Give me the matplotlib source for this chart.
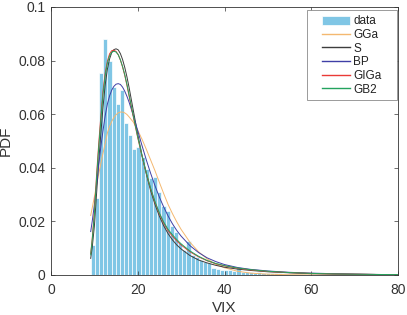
import numpy as np
import matplotlib
matplotlib.use("Agg")
import matplotlib.pyplot as plt
from matplotlib.patches import Rectangle

plt.rcParams['font.family'] = ['Liberation Sans', 'DejaVu Sans']

# ---- histogram (PDF-normalised) ----
bin_start = 9.15
bin_width = 0.96
hist_heights = [
    0.0112, 0.0287, 0.0755, 0.0880, 0.0800, 0.0700, 0.0638, 0.0690, 0.0567, 0.0522,
    0.0469, 0.0476, 0.0442, 0.0394, 0.0361, 0.0365, 0.0311, 0.0259, 0.0240, 0.0184,
    0.0162, 0.0121, 0.0093, 0.0126, 0.0075, 0.0066, 0.0056, 0.0047, 0.0044, 0.0026,
    0.0022, 0.0020, 0.0018, 0.0017, 0.0015, 0.0029, 0.0013, 0.0012, 0.0011, 0.0009,
    0.0010, 0.0008, 0.0007, 0.0007, 0.0006, 0.0006, 0.0005, 0.0005, 0.0004, 0.0004,
    0.0003, 0.0004, 0.0003, 0.0002, 0.0003, 0.0002, 0.0002, 0.0001, 0.0002, 0.0001,
    0.0001, 0.0001, 0.0001, 0.0000, 0.0001, 0.0000, 0.0000, 0.0000, 0.0001, 0.0000,
    0.0000, 0.0000, 0.0001, 0.0000,
]

# ---- fitted PDFs ----
x_fit = [9.15, 9.5, 10, 10.5, 11, 11.5, 12, 12.5, 13, 13.5, 14, 14.5, 15, 15.5, 16,
         16.5, 17, 17.5, 18, 19, 20, 21, 22, 23, 24, 25, 26, 27, 28, 29, 30, 32, 34,
         36, 38, 40, 43, 46, 50, 55, 60, 65, 70, 75, 80]

pdf_gga = [0.0222, 0.0250, 0.0292, 0.0335, 0.0377, 0.0417, 0.0455, 0.0492, 0.0530,
           0.0555, 0.0573, 0.0588, 0.0598, 0.0605, 0.0608, 0.0608, 0.0605, 0.0599,
           0.0590, 0.0570, 0.0540, 0.0506, 0.0468, 0.0428, 0.0388, 0.0345, 0.0303,
           0.0263, 0.0229, 0.0198, 0.0170, 0.0123, 0.0087, 0.0060, 0.0040, 0.0027,
           0.0014, 0.0007, 0.0003, 0.0001, 0.00003, 0.0, 0.0, 0.0, 0.0]

pdf_s = [0.0062, 0.0102, 0.0182, 0.0302, 0.0422, 0.0530, 0.0628, 0.0710, 0.0768,
         0.0806, 0.0830, 0.0841, 0.0844, 0.0840, 0.0826, 0.0804, 0.0775, 0.0740,
         0.0700, 0.0612, 0.0525, 0.0445, 0.0375, 0.0313, 0.0262, 0.0219, 0.0183,
         0.0154, 0.0131, 0.0112, 0.0097, 0.0073, 0.0056, 0.0045, 0.0036, 0.0029,
         0.0022, 0.0017, 0.0012, 0.0008, 0.0005, 0.0004, 0.0003, 0.0002, 0.0001]

pdf_bp = [0.0162, 0.0200, 0.0262, 0.0335, 0.0410, 0.0480, 0.0540, 0.0595, 0.0638,
          0.0668, 0.0690, 0.0704, 0.0712, 0.0714, 0.0711, 0.0701, 0.0686, 0.0667,
          0.0645, 0.0594, 0.0538, 0.0482, 0.0428, 0.0378, 0.0332, 0.0290, 0.0253,
          0.0220, 0.0191, 0.0166, 0.0145, 0.0110, 0.0084, 0.0064, 0.0050, 0.0039,
          0.0028, 0.0021, 0.0015, 0.0010, 0.0007, 0.0005, 0.0003, 0.0002, 0.00015]

pdf_giga = [0.0080, 0.0135, 0.0235, 0.0372, 0.0490, 0.0595, 0.0688, 0.0755, 0.0798,
            0.0825, 0.0837, 0.0839, 0.0834, 0.0822, 0.0802, 0.0776, 0.0745, 0.0708,
            0.0668, 0.0588, 0.0512, 0.0442, 0.0378, 0.0320, 0.0270, 0.0228, 0.0193,
            0.0165, 0.0145, 0.0127, 0.0112, 0.0087, 0.0068, 0.0053, 0.0042, 0.0034,
            0.0025, 0.0019, 0.0013, 0.0009, 0.0006, 0.0004, 0.0003, 0.0002, 0.00015]

pdf_gb2 = [0.0075, 0.0130, 0.0225, 0.0360, 0.0475, 0.0580, 0.0675, 0.0745, 0.0790,
           0.0818, 0.0831, 0.0835, 0.0832, 0.0822, 0.0803, 0.0778, 0.0748, 0.0712,
           0.0672, 0.0592, 0.0515, 0.0445, 0.0380, 0.0322, 0.0273, 0.0231, 0.0197,
           0.0170, 0.0150, 0.0132, 0.0116, 0.0090, 0.0070, 0.0054, 0.0043, 0.0035,
           0.0026, 0.0020, 0.0014, 0.0009, 0.0006, 0.0004, 0.0003, 0.0002, 0.00015]

labels = ['data', 'GGa', 'S', 'BP', 'GIGa', 'GB2']
colors = ['#80c6e5', '#f4b870', '#3d3d3d', '#3f3fa6', '#ea3a36', '#23a35e']

x_ticks = [0, 20, 40, 60, 80]
y_ticks = [0, 0.02, 0.04, 0.06, 0.08, 0.1]
y_tick_labels = ['0', '0.02', '0.04', '0.06', '0.08', '0.1']

W, H = 407, 315
fig = plt.figure(figsize=(W / 100, H / 100), dpi=100)
ax = fig.add_axes([51 / W, 40 / H, 347 / W, 268 / H])

n = len(hist_heights)
edges = bin_start + bin_width * np.arange(n)
bars = ax.bar(edges, hist_heights, width=bin_width, align='edge', color=colors[0],
              edgecolor='white', linewidth=0.5, label=labels[0])

handles = [bars]
curves = [pdf_gga, pdf_s, pdf_bp, pdf_giga, pdf_gb2]
for y, lab, c in zip(curves, labels[1:], colors[1:]):
    ln, = ax.plot(x_fit, y, color=c, linewidth=0.7, label=lab)
    handles.append(ln)

ax.set_xlim(0, 80)
ax.set_ylim(0, 0.1)
ax.set_xticks(x_ticks)
ax.set_yticks(y_ticks)
ax.set_yticklabels(y_tick_labels)
ax.tick_params(direction='in', length=3, width=0.5, top=True, right=True,
               labelsize=10, colors='#333333')
ax.tick_params(axis='x', pad=6)
ax.tick_params(axis='y', pad=4)
for sp in ax.spines.values():
    sp.set_linewidth(0.6)
    sp.set_color('#333333')
ax.set_xlabel('VIX', fontsize=11, color='#333333', labelpad=3)
ax.set_ylabel('PDF', fontsize=11, color='#333333', labelpad=4)

# legend frame (MATLAB-style box) drawn in figure pixels
frame = Rectangle((307 / W, 1 - 100 / H), 90 / W, 90 / H, transform=fig.transFigure,
                  facecolor='white', edgecolor='#8a8a8a', linewidth=0.6, zorder=5)
fig.patches.append(frame)

leg = fig.legend(handles, labels, loc='upper left',
                 bbox_to_anchor=(322 / W, 1 - 15.5 / H),
                 fontsize=8.5, frameon=False, borderpad=0, handlelength=2.35,
                 handleheight=0.8, handletextpad=0.3, labelspacing=0.14,
                 borderaxespad=0)
leg.set_zorder(6)
for t in leg.get_texts():
    t.set_color('#222222')
for h in leg.legend_handles[1:]:
    h.set_linewidth(1.0)

fig.savefig('out.png', dpi=100)
